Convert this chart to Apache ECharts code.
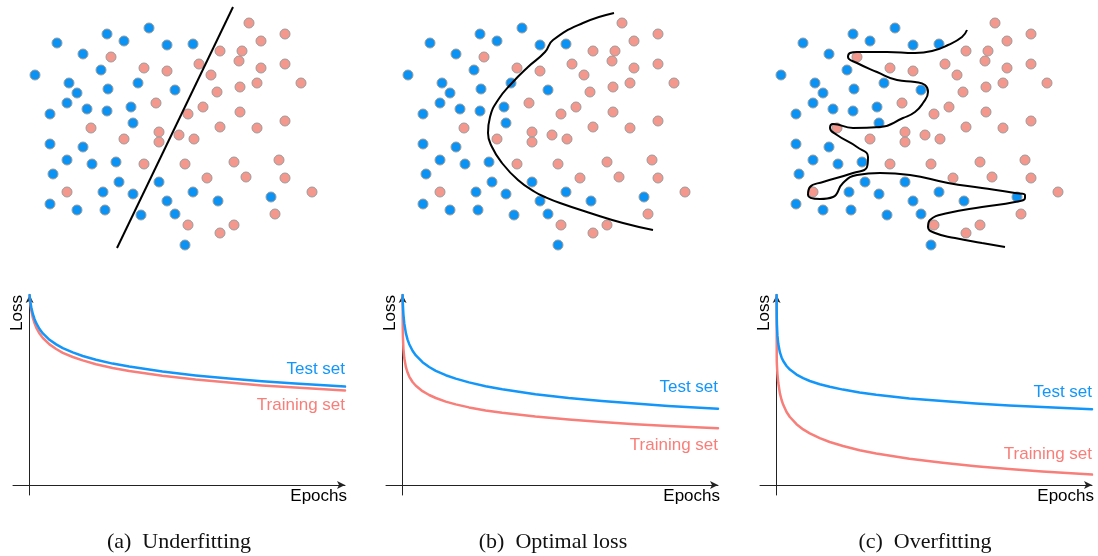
<!DOCTYPE html>
<html><head><meta charset="utf-8">
<script src="https://cdn.jsdelivr.net/npm/echarts/dist/echarts.min.js"></script>
<style>html,body{margin:0;padding:0;background:#fff}#c{width:1098px;height:556px}</style>
</head><body><div id="c"></div>
<script>
// ---- scatter data (feature space units, same samples in all three panels) ----
const bluePoints = [[57,43],[107,34],[149,28],[124,41],[167,45],[83,54],[101,70],[35,75],[69,83],[77,93],[108,89],[138,83],[175,90],[67,103],[50,114],[87,109],[107,111],[131,107],[133,123],[50,144],[83,147],[67,160],[92,164],[116,162],[53,174],[119,182],[103,192],[133,194],[159,182],[50,204],[77,210],[105,210],[141,215],[167,201],[175,214],[193,44],[193,192],[218,201],[271,197],[185,245]];
const pinkPoints = [[111,57],[144,68],[167,71],[156,103],[91,128],[124,139],[159,132],[159,142],[144,164],[67,192],[249,23],[285,34],[261,41],[220,51],[242,51],[239,61],[199,64],[261,68],[285,64],[211,75],[217,92],[240,87],[257,83],[301,83],[203,107],[188,114],[240,112],[220,127],[257,128],[285,121],[179,135],[194,139],[185,164],[234,162],[279,160],[207,178],[246,177],[285,178],[312,192],[275,214],[188,225],[234,225],[220,233]];
// ---- decision boundaries ----
const boundaryUnder = [[117,248],[233,7]];
const boundaryOptimal = [[241,13],[210,23],[180,40],[172,52],[155,67],[139,83],[125,100],[117,117],[115,133],[119,147],[129,163],[145,180],[162,192],[172,197],[187,203],[217,213],[250,223],[280,230]];
const boundaryOver = [[221,30],[216,37],[202,45],[186,51],[169,53],[141,52],[111,52],[104,53],[102,57],[111,63],[131,72],[151,80],[169,82],[179,85],[182,92],[177,103],[169,112],[157,118],[134,127],[107,128],[87,124],[84,128],[91,135],[111,147],[122,157],[121,167],[107,173],[77,182],[64,187],[62,195],[74,199],[87,197],[97,183],[111,175],[134,173],[164,175],[202,183],[236,188],[269,193],[279,195],[279,198],[269,202],[236,207],[202,213],[184,220],[182,227],[189,233],[209,238],[236,243],[259,247]];
// ---- loss curves ----
const epochs       = [0, 0.05, 0.1, 0.25, 0.5, 1, 1.5, 2, 3, 4, 6, 8, 10, 13, 16, 20, 25, 30, 40, 50, 60, 70, 80, 95];
const testUnder    = [95, 94.1, 93.3, 91.4, 88.9, 85.4, 82.9, 80.9, 78.0, 75.8, 72.6, 70.3, 68.4, 66.3, 64.5, 62.6, 60.7, 59.2, 56.7, 54.8, 53.2, 51.9, 50.7, 49.2];
const trainUnder   = [95, 93.8, 92.8, 90.3, 87.4, 83.4, 80.8, 78.7, 75.7, 73.5, 70.3, 68.0, 66.1, 64.0, 62.3, 60.4, 58.5, 57.0, 54.6, 52.7, 51.2, 49.8, 48.7, 47.3];
const testOptimal  = [95, 91.9, 89.7, 85.2, 80.9, 75.8, 72.7, 70.4, 67.1, 64.8, 61.4, 59.0, 57.1, 54.9, 53.2, 51.3, 49.4, 47.9, 45.4, 43.5, 42.0, 40.7, 39.5, 38.1];
const trainOptimal = [95, 78.3, 74.0, 68.1, 63.5, 58.9, 56.2, 54.2, 51.5, 49.6, 46.9, 45.0, 43.5, 41.7, 40.3, 38.8, 37.3, 36.1, 34.2, 32.7, 31.5, 30.4, 29.5, 28.4];
const testOver     = [95, 84.0, 80.2, 74.8, 70.6, 66.3, 63.8, 62.0, 59.5, 57.7, 55.2, 53.4, 52.0, 50.4, 49.1, 47.7, 46.3, 45.1, 43.3, 42.0, 40.8, 39.8, 39.0, 37.9];
const trainOver    = [95, 61.9, 59.9, 55.5, 51.1, 45.8, 42.5, 40.1, 36.5, 34.0, 30.4, 27.8, 25.8, 23.4, 21.5, 19.5, 17.4, 15.8, 13.1, 11.1, 9.4, 8.0, 6.8, 5.2];
const seriesNames = ['Test set','Training set'];
const axisNames = ['Epochs','Loss'];
const captions = ['(a)  Underfitting','(b)  Optimal loss','(c)  Overfitting'];

const BLUE_PT = '#0A93F5', PINK_PT = '#F4978D';
const TEST_C = '#1296FA', TRAIN_C = '#F87E79';
const SANS = 'Liberation Sans, Arial, sans-serif';

const panelX = [0, 373, 746];
const lineLeft = [13, 386, 760];
const lineCenters = [179, 553, 925];
const boundaries = [boundaryUnder, boundaryOptimal, boundaryOver];
const curves = [[testUnder, trainUnder],[testOptimal, trainOptimal],[testOver, trainOver]];
const labelDy = [[-17, 15],[-21, 17],[-17,-20]];

const grid = [], xAxis = [], yAxis = [], series = [], graphic = [];
for (let p = 0; p < 3; p++) {
  // scatter grid
  grid.push({left: panelX[p], top: 0, width: 340, height: 260, outerBoundsMode: 'none'});
  xAxis.push({type:'value', gridIndex: grid.length-1, min:0, max:340, show:false});
  yAxis.push({type:'value', gridIndex: grid.length-1, min:0, max:260, inverse:true, show:false});
  const si = xAxis.length-1;
  series.push({type:'scatter', xAxisIndex: si, yAxisIndex: si, data: bluePoints, symbolSize: 10,
    itemStyle:{color: BLUE_PT, borderColor:'#9c9c9c', borderWidth:1, opacity:1}, z:2});
  series.push({type:'scatter', xAxisIndex: si, yAxisIndex: si, data: pinkPoints, symbolSize: 10,
    itemStyle:{color: PINK_PT, borderColor:'#9c9c9c', borderWidth:1, opacity:1}, z:2});
  series.push({type:'line', xAxisIndex: si, yAxisIndex: si, data: boundaries[p], symbol:'none',
    smooth: p === 0 ? false : 0.5, lineStyle:{color:'#000', width:2}, z:3, silent:true});

  // loss grid
  grid.push({left: lineLeft[p], top: 295, width: 332, height: 200, outerBoundsMode: 'none'});
  const li = grid.length-1;
  const axisLineStyle = {show:true, onZero:true, symbol:['none','arrow'], symbolSize:[6,8], lineStyle:{color:'#222', width:1}};
  xAxis.push({type:'value', gridIndex: li, min:-5, max:95, axisLine: axisLineStyle, axisTick:{show:false},
    axisLabel:{show:false}, splitLine:{show:false}, name: axisNames[0], nameLocation:'end', nameGap: 2,
    nameTextStyle:{fontFamily: SANS, fontSize:17, color:'#000', align:'right', verticalAlign:'top', padding:[3,0,0,0]}});
  yAxis.push({type:'value', gridIndex: li, min:-5, max:95, axisLine: axisLineStyle, axisTick:{show:false},
    axisLabel:{show:false}, splitLine:{show:false}, name: axisNames[1], nameLocation:'end', nameGap: 0, nameRotate: 90,
    nameTextStyle:{fontFamily: SANS, fontSize:17, color:'#000', align:'right', verticalAlign:'bottom', padding:[0,0,4,0]}});
  const ai = xAxis.length-1;
  [[1, TRAIN_C],[0, TEST_C]].forEach(([k, col]) => {
    series.push({type:'line', name: seriesNames[k], xAxisIndex: ai, yAxisIndex: ai,
      data: epochs.map((e,i)=>[e, curves[p][k][i]]), showSymbol:false, symbol:'none',
      smooth: false, lineStyle:{color: col, width:2.5, join:'round', cap:'round'}, z: 3 + (1-k),
      endLabel:{show:true, formatter: seriesNames[k], color: col, fontFamily: SANS, fontSize:17,
        align:'right', verticalAlign:'middle', distance:0, offset:[0, labelDy[p][k]]}});
  });
  graphic.push({type:'text', x: lineCenters[p], y: 542, style:{text: captions[p], fill:'#111',
    font: '22px "Liberation Serif", "Times New Roman", serif', align:'center', verticalAlign:'middle'}});
}

const chart = echarts.init(document.getElementById('c'), null, {renderer:'canvas'});
chart.setOption({animation:false, backgroundColor:'#fff', grid, xAxis, yAxis, series, graphic});
</script></body></html>
